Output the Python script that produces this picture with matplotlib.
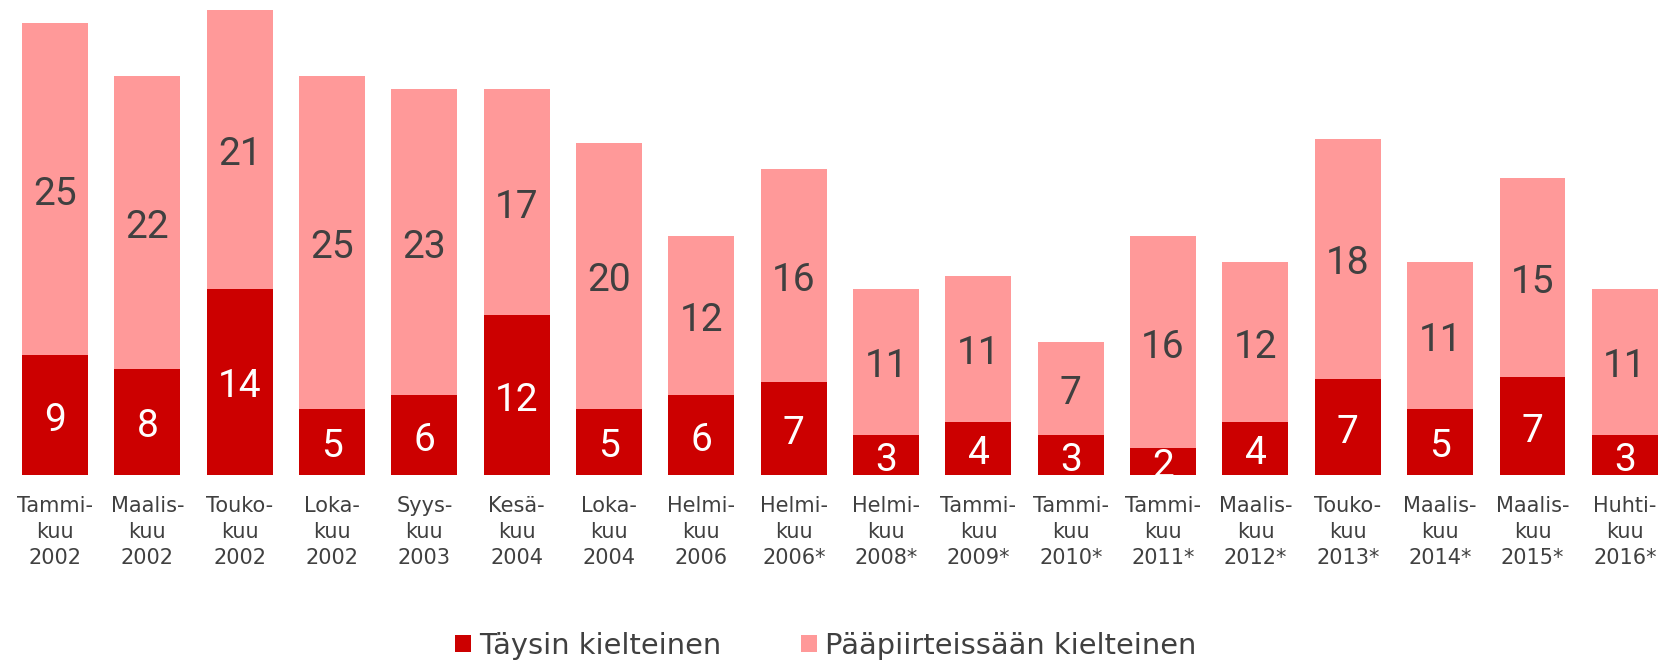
import matplotlib
matplotlib.use("Agg")
import matplotlib.pyplot as plt
import numpy as np

categories = ["Tammi-\nkuu\n2002", "Maalis-\nkuu\n2002", "Touko-\nkuu\n2002", "Loka-\nkuu\n2002",
              "Syys-\nkuu\n2003", "Kesä-\nkuu\n2004", "Loka-\nkuu\n2004", "Helmi-\nkuu\n2006",
              "Helmi-\nkuu\n2006*", "Helmi-\nkuu\n2008*", "Tammi-\nkuu\n2009*", "Tammi-\nkuu\n2010*",
              "Tammi-\nkuu\n2011*", "Maalis-\nkuu\n2012*", "Touko-\nkuu\n2013*", "Maalis-\nkuu\n2014*",
              "Maalis-\nkuu\n2015*", "Huhti-\nkuu\n2016*"]
taysin = [9, 8, 14, 5, 6, 12, 5, 6, 7, 3, 4, 3, 2, 4, 7.2, 5, 7.35, 3]
paapiirteissaan = [25, 22, 21, 25, 23, 17, 20, 12, 16, 11, 11, 7, 16, 12, 18.1, 11, 15.0, 11]
series_names = ["Täysin kielteinen", "Pääpiirteissään kielteinen"]

dark = "#CC0000"
light = "#FF9999"
textc = "#404040"

fig = plt.figure(figsize=(16.71, 6.64), dpi=100)
ax = fig.add_axes([0.0053, 0.2846, 0.9947, 0.7009])
x = np.arange(len(categories))
w = 0.714
b1 = ax.bar(x, taysin, w, color=dark, label=series_names[0])
b2 = ax.bar(x, paapiirteissaan, w, bottom=taysin, color=light, label=series_names[1])

fs_num = 28
off = -0.711 * fs_num / 2 - 1.2
for xi, d, l in zip(x, taysin, paapiirteissaan):
    ax.annotate(f"{round(d)}", (xi, d / 2), xytext=(0, off), textcoords="offset points",
                ha="center", va="baseline", color="white", fontsize=fs_num, family="Roboto")
    ax.annotate(f"{round(l)}", (xi, d + l / 2), xytext=(0, off), textcoords="offset points",
                ha="center", va="baseline", color=textc, fontsize=fs_num, family="Roboto")

ax.set_xlim(-0.5, len(categories) - 0.5)
ax.set_ylim(0, 35)
ax.set_xticks(x)
ax.set_xticklabels(categories, fontsize=15, color=textc, linespacing=1.38, family="DejaVu Sans")
ax.tick_params(axis="x", length=0, pad=15)
ax.set_yticks([])
for s in ax.spines.values():
    s.set_visible(False)

leg = fig.legend(handles=[b1, b2], labels=series_names, loc="center",
                 bbox_to_anchor=(0.4943, 1 - 646 / 664), ncol=2, frameon=False,
                 prop={"family": "DejaVu Sans", "size": 20.8}, handlelength=0.55, handleheight=0.52,
                 handletextpad=0.28, columnspacing=2.77, labelcolor=textc)

fig.savefig("out.png", dpi=100)
